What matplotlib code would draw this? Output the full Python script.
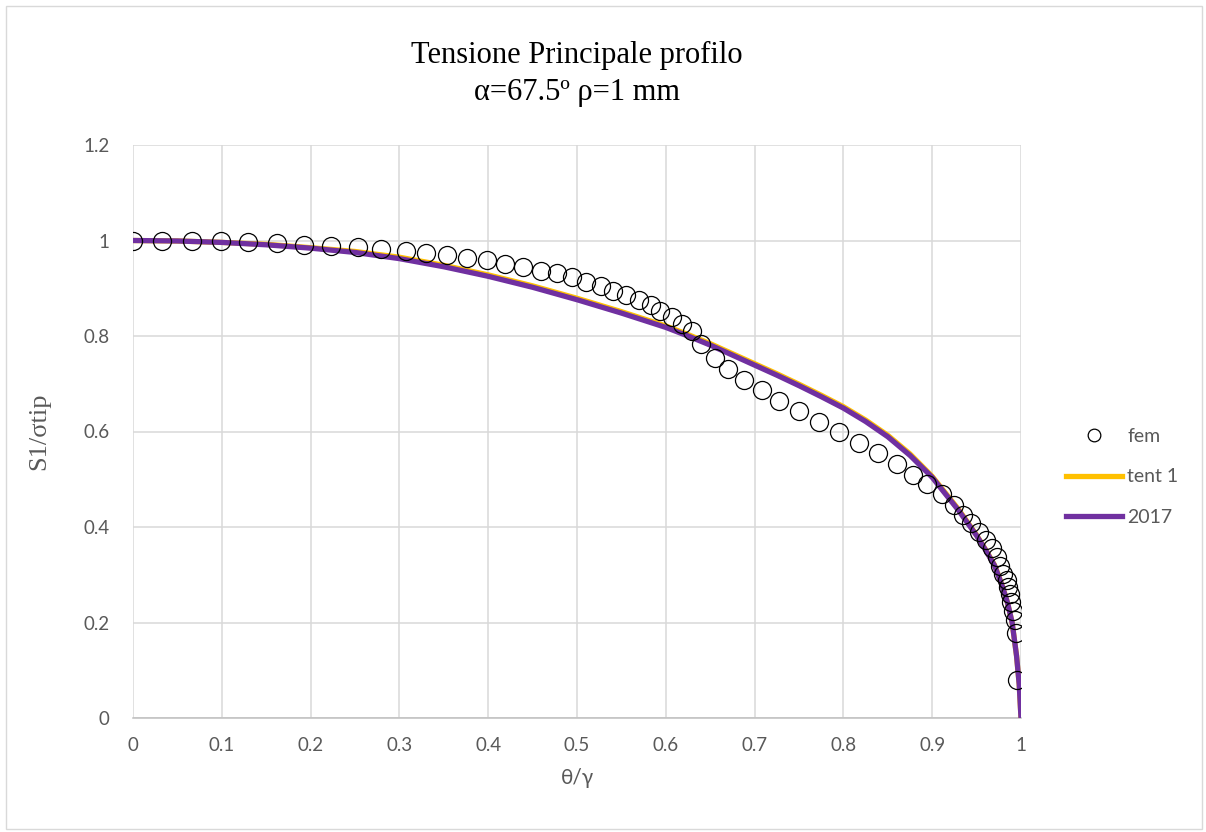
import matplotlib
matplotlib.use("Agg")
import matplotlib.pyplot as plt
from matplotlib.patches import Rectangle

# fem results (theta/gamma, S1/sigma_tip)
fem_x = [0.000, 0.033, 0.066, 0.099, 0.130, 0.162, 0.193, 0.223, 0.253, 0.279,
         0.307, 0.330, 0.354, 0.376, 0.399, 0.419, 0.439, 0.459, 0.477, 0.494,
         0.510, 0.527, 0.541, 0.555, 0.570, 0.583, 0.594, 0.607, 0.618, 0.629,
         0.640, 0.655, 0.670, 0.688, 0.708, 0.728, 0.750, 0.772, 0.795, 0.818,
         0.839, 0.860, 0.878, 0.894, 0.911, 0.924, 0.935, 0.944, 0.953, 0.961,
         0.967, 0.973, 0.976, 0.980, 0.984, 0.985, 0.988, 0.989, 0.991, 0.993,
         0.994, 0.995]
fem_y = [1.000, 1.000, 1.000, 0.998, 0.996, 0.994, 0.991, 0.989, 0.986, 0.982,
         0.978, 0.974, 0.970, 0.964, 0.959, 0.951, 0.944, 0.937, 0.931, 0.923,
         0.913, 0.905, 0.895, 0.885, 0.875, 0.864, 0.853, 0.840, 0.825, 0.810,
         0.783, 0.754, 0.730, 0.708, 0.687, 0.664, 0.643, 0.620, 0.599, 0.576,
         0.555, 0.532, 0.509, 0.490, 0.469, 0.446, 0.425, 0.408, 0.390, 0.373,
         0.355, 0.338, 0.319, 0.302, 0.288, 0.274, 0.259, 0.242, 0.225, 0.205,
         0.177, 0.080]

# analytical curves
curve_x = [0.0, 0.05, 0.1, 0.15, 0.2, 0.25, 0.3, 0.35, 0.4, 0.45, 0.5, 0.55,
           0.6, 0.625, 0.65, 0.675, 0.7, 0.725, 0.75, 0.775, 0.8, 0.825, 0.85,
           0.875, 0.9, 0.93, 0.95, 0.96, 0.97, 0.975, 0.98, 0.985, 0.99, 0.995,
           0.998, 1.0]
tent1_y = [1.000, 0.999, 0.996, 0.992, 0.985, 0.977, 0.965, 0.948, 0.928, 0.905,
           0.879, 0.851, 0.821, 0.803, 0.784, 0.763, 0.742, 0.721, 0.699, 0.676,
           0.652, 0.624, 0.592, 0.553, 0.506, 0.436, 0.383, 0.353, 0.321, 0.297,
           0.271, 0.240, 0.200, 0.130, 0.070, 0.000]
y2017 = [1.000, 0.999, 0.996, 0.991, 0.984, 0.975, 0.962, 0.945, 0.925, 0.902,
         0.876, 0.848, 0.818, 0.800, 0.781, 0.760, 0.739, 0.718, 0.696, 0.673,
         0.649, 0.621, 0.589, 0.550, 0.504, 0.434, 0.382, 0.352, 0.320, 0.296,
         0.270, 0.240, 0.200, 0.130, 0.070, 0.000]

x_ticks = [0, 0.1, 0.2, 0.3, 0.4, 0.5, 0.6, 0.7, 0.8, 0.9, 1.0]
x_labels = ["0", "0.1", "0.2", "0.3", "0.4", "0.5", "0.6", "0.7", "0.8", "0.9", "1"]
y_ticks = [0, 0.2, 0.4, 0.6, 0.8, 1.0, 1.2]
y_labels = ["0", "0.2", "0.4", "0.6", "0.8", "1", "1.2"]

gray_txt = "#595959"
tick_font = "Lato"

fig = plt.figure(figsize=(12.06, 8.32), dpi=100)
ax = fig.add_axes([133 / 1206, 1 - 718 / 832, 888 / 1206, 573 / 832])

# chart area border
fig.patches.append(Rectangle((6 / 1206, 3 / 832), 1196 / 1206, 823 / 832,
                             transform=fig.transFigure, fill=False,
                             edgecolor="#D9D9D9", linewidth=1))

ax.plot(curve_x, tent1_y, color="#FFC000", linewidth=3.8, label="tent 1", zorder=3)
ax.plot(curve_x, y2017, color="#7030A0", linewidth=3.8, label="2017", zorder=4)
ax.plot(fem_x, fem_y, linestyle="none", marker="o", markersize=13,
        markerfacecolor="none", markeredgecolor="black", markeredgewidth=0.9,
        label="fem", zorder=5)

ax.set_xlim(0, 1)
ax.set_ylim(0, 1.2)
ax.set_xticks(x_ticks)
ax.set_xticklabels(x_labels, fontsize=13.5, color=gray_txt, family=tick_font)
ax.set_yticks(y_ticks)
ax.set_yticklabels(y_labels, fontsize=13.5, color=gray_txt, family=tick_font)
ax.tick_params(axis="both", length=0)
ax.tick_params(axis="x", pad=14)
ax.tick_params(axis="y", pad=17)

ax.grid(True, color="#D9D9D9", linewidth=1.1)
ax.set_axisbelow(True)
for side in ["top", "right", "left"]:
    ax.spines[side].set_visible(False)
ax.spines["bottom"].set_color("#BFBFBF")
ax.spines["bottom"].set_linewidth(1.1)

ax.set_xlabel("θ/γ", fontsize=15, color=gray_txt, family=tick_font, labelpad=10)
ax.set_ylabel("S1/σtip", fontsize=19, color=gray_txt, family="Liberation Serif",
              labelpad=24)

fig.text(577 / 1206, 1 - 74 / 832, "Tensione Principale profilo\nα=67.5º ρ=1 mm",
         ha="center", va="center", fontsize=22, family="Liberation Serif",
         color="black", linespacing=1.4)

handles, labels = ax.get_legend_handles_labels()
order = [2, 0, 1]
leg = fig.legend([handles[i] for i in order], [labels[i] for i in order],
                 loc="center left", bbox_to_anchor=(1066 / 1206, 1 - 477 / 832),
                 frameon=False, handlelength=2.9, handletextpad=0.25,
                 labelspacing=1.2, borderpad=0, borderaxespad=0, markerscale=0.7,
                 prop={"family": tick_font, "size": 14})
for t in leg.get_texts():
    t.set_color(gray_txt)

fig.savefig("out.png", dpi=100)
